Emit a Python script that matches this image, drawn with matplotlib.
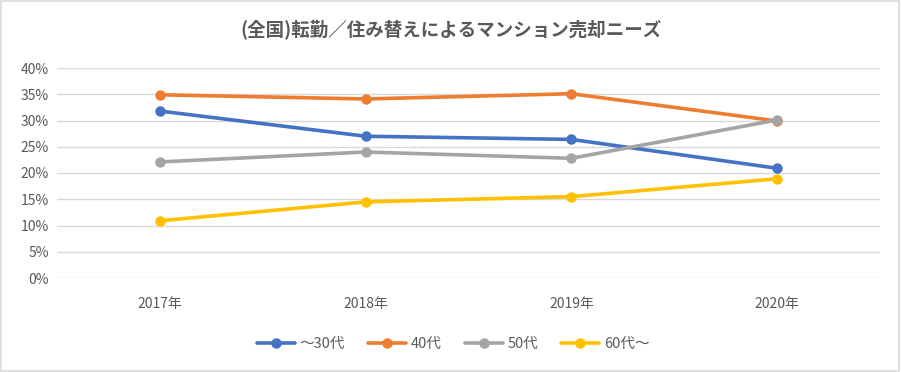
import matplotlib
matplotlib.use("Agg")
import matplotlib.pyplot as plt
from matplotlib.ticker import PercentFormatter

plt.rcParams['font.family'] = ['Noto Sans CJK JP', 'DejaVu Sans']

years = ["2017年", "2018年", "2019年", "2020年"]
series_names = ["～30代", "40代", "50代", "60代～"]
s30 = [31.8, 27.0, 26.4, 20.9]
s40 = [34.9, 34.1, 35.1, 29.9]
s50 = [22.1, 24.0, 22.8, 30.1]
s60 = [10.9, 14.5, 15.5, 18.9]
colors = ["#4472C4", "#ED7D31", "#A5A5A5", "#FFC000"]

fig = plt.figure(figsize=(9.01, 3.72), dpi=100)
ax = fig.add_axes([57/901, 1-278/372, (880-57)/901, (278-68)/372])

x = range(len(years))
for vals, name, c in zip([s30, s40, s50, s60], series_names, colors):
    ax.plot(x, vals, color=c, lw=2.6, marker='o', markersize=6.5, label=name,
            solid_capstyle='round')

ax.set_xlim(-0.5, 3.5)
ax.set_ylim(0, 40)
ax.set_yticks(range(0, 41, 5))
ax.yaxis.set_major_formatter(PercentFormatter(decimals=0))
ax.set_xticks(list(x))
ax.set_xticklabels(years)
ax.grid(axis='y', color='#D9D9D9', lw=1)
ax.set_axisbelow(True)
for sp in ax.spines.values():
    sp.set_visible(False)
ax.tick_params(length=0, colors='#595959', labelsize=10)
ax.tick_params(axis='x', pad=14)
ax.tick_params(axis='y', pad=6)

fig.text(0.5, 1-30/372, "(全国)転勤／住み替えによるマンション売却ニーズ", ha='center', va='center',
         fontsize=13.3, color='#595959', fontweight='bold')

leg = fig.legend(loc='center', bbox_to_anchor=(0.503, 1-344/372), ncol=4, frameon=False,
                 fontsize=10.5, handlelength=2.6, columnspacing=1.6, handletextpad=0.3)
for t in leg.get_texts():
    t.set_color('#595959')

fig.patches.append(plt.Rectangle((0.001, 0.002), 0.997, 0.995, transform=fig.transFigure,
                                 fill=False, edgecolor='#D9D9D9', lw=1.2))

fig.savefig("out.png", dpi=100)
